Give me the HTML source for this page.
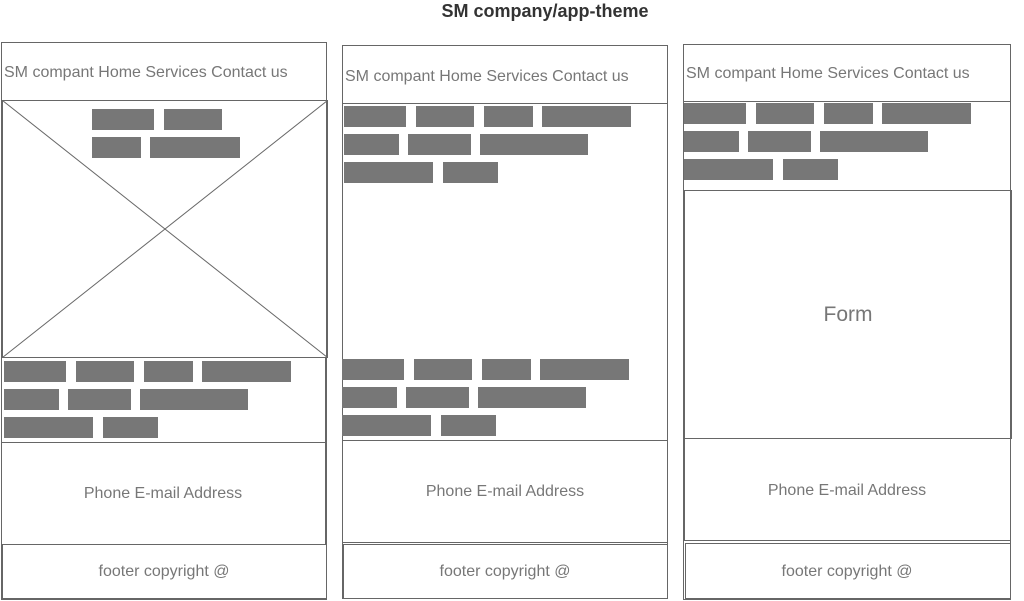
<!DOCTYPE html>
<html><head><style>html,body{margin:0;padding:0;background:#fff}svg{display:block}</style></head><body>
<svg width="1024" height="601" xmlns="http://www.w3.org/2000/svg" font-family="Liberation Sans, sans-serif">
<text x="545" y="17" text-anchor="middle" font-size="18" font-weight="bold" fill="#333">SM company/app-theme</text>
<g fill="none" stroke="#666" stroke-width="1">
<rect x="1.5" y="42.5" width="325" height="557"/>
<rect x="1.5" y="42.5" width="325" height="58"/>
<rect x="2.5" y="100.5" width="325" height="257"/>
<line x1="2.5" y1="100.5" x2="327.5" y2="357.5"/>
<line x1="327.5" y1="100.5" x2="2.5" y2="357.5"/>
<rect x="1.5" y="357.5" width="324" height="85"/>
<rect x="1.5" y="442.5" width="324" height="102"/>
<rect x="2.5" y="544.5" width="324" height="54"/>
<rect x="342.5" y="45.5" width="325" height="553"/>
<rect x="342.5" y="45.5" width="325" height="58"/>
<line x1="342.5" y1="440.5" x2="667.5" y2="440.5"/>
<rect x="342.5" y="440.5" width="325" height="102"/>
<rect x="343.5" y="544.5" width="324" height="54"/>
<rect x="683.5" y="44.5" width="327" height="555"/>
<rect x="683.5" y="44.5" width="327" height="57"/>
<rect x="684.5" y="190.5" width="327" height="248"/>
<rect x="684.5" y="438.5" width="326" height="102"/>
<rect x="685.5" y="543.5" width="325" height="55"/>
</g>
<g fill="#777">
<rect x="92" y="109" width="62" height="21"/><rect x="164" y="109" width="58" height="21"/>
<rect x="92" y="137" width="49" height="21"/><rect x="150" y="137" width="90" height="21"/>
<rect x="4" y="361" width="62" height="21"/><rect x="76" y="361" width="58" height="21"/><rect x="144" y="361" width="49" height="21"/><rect x="202" y="361" width="89" height="21"/>
<rect x="4" y="389" width="55" height="21"/><rect x="68" y="389" width="63" height="21"/><rect x="140" y="389" width="108" height="21"/>
<rect x="4" y="417" width="89" height="21"/><rect x="103" y="417" width="55" height="21"/>
<rect x="344" y="106" width="62" height="21"/><rect x="416" y="106" width="58" height="21"/><rect x="484" y="106" width="49" height="21"/><rect x="542" y="106" width="89" height="21"/>
<rect x="344" y="134" width="55" height="21"/><rect x="408" y="134" width="63" height="21"/><rect x="480" y="134" width="108" height="21"/>
<rect x="344" y="162" width="89" height="21"/><rect x="443" y="162" width="55" height="21"/>
<rect x="342" y="359" width="62" height="21"/><rect x="414" y="359" width="58" height="21"/><rect x="482" y="359" width="49" height="21"/><rect x="540" y="359" width="89" height="21"/>
<rect x="342" y="387" width="55" height="21"/><rect x="406" y="387" width="63" height="21"/><rect x="478" y="387" width="108" height="21"/>
<rect x="342" y="415" width="89" height="21"/><rect x="441" y="415" width="55" height="21"/>
<rect x="684" y="103" width="62" height="21"/><rect x="756" y="103" width="58" height="21"/><rect x="824" y="103" width="49" height="21"/><rect x="882" y="103" width="89" height="21"/>
<rect x="684" y="131" width="55" height="21"/><rect x="748" y="131" width="63" height="21"/><rect x="820" y="131" width="108" height="21"/>
<rect x="684" y="159" width="89" height="21"/><rect x="783" y="159" width="55" height="21"/>
</g>
<g fill="#777" font-size="16">
<text x="4" y="77">SM compant Home Services Contact us</text>
<text x="345" y="81">SM compant Home Services Contact us</text>
<text x="686" y="78">SM compant Home Services Contact us</text>
<text x="163" y="498" text-anchor="middle">Phone E-mail Address</text>
<text x="505" y="496" text-anchor="middle">Phone E-mail Address</text>
<text x="847" y="495" text-anchor="middle">Phone E-mail Address</text>
<text x="164" y="576" text-anchor="middle">footer copyright @</text>
<text x="505" y="576" text-anchor="middle">footer copyright @</text>
<text x="847" y="576" text-anchor="middle">footer copyright @</text>
<text x="848" y="321" text-anchor="middle" font-size="21">Form</text>
</g>
</svg>
</body></html>
